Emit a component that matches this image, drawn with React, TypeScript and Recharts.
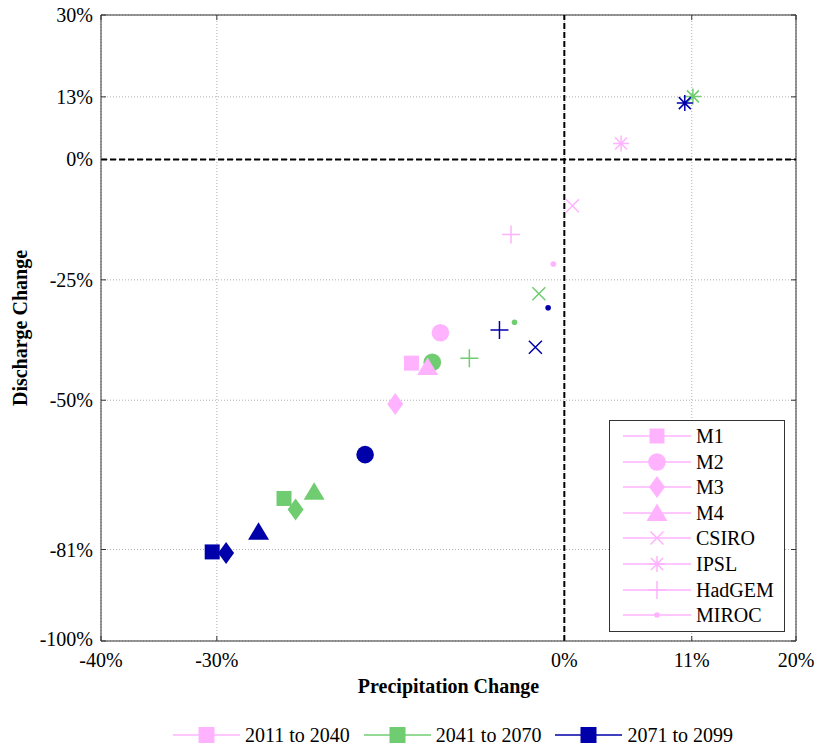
import React from 'react';
import { ScatterChart, Scatter, XAxis, YAxis, CartesianGrid, ReferenceLine, Label } from 'recharts';

const MODELS = ['M1', 'M2', 'M3', 'M4', 'CSIRO', 'IPSL', 'HadGEM', 'MIROC'];
const PERIODS = ['2011 to 2040', '2041 to 2070', '2071 to 2099'];
const COLORS = ['#FFB3FF', '#70CC70', '#0000AA'];

// precipitation change (%) per model
const precip2011 = [-13.2, -10.7, -14.6, -11.8, 0.7, 4.9, -4.6, -0.95];
const precip2041 = [-24.2, -11.4, -23.2, -21.6, -2.2, 11.1, -8.2, -4.3];
const precip2071 = [-30.4, -17.2, -29.2, -26.4, -2.5, 10.4, -5.6, -1.4];
// discharge change (%) per model
const discharge2011 = [-42.3, -36, -50.8, -43.1, -9.6, 3.3, -15.6, -21.7];
const discharge2041 = [-70.4, -42.1, -72.7, -69, -27.9, 13.1, -41.3, -33.8];
const discharge2071 = [-81.5, -61.3, -81.7, -77.3, -39, 11.7, -35.4, -30.8];

const xTicks = [-40, -30, 0, 11, 20];
const yTicks = [-100, -81, -50, -25, 0, 13, 30];

const FONT = '"Liberation Serif", "Times New Roman", serif';
const precip = [precip2011, precip2041, precip2071];
const discharge = [discharge2011, discharge2041, discharge2071];

const seriesByModel = MODELS.map((model, m) =>
  PERIODS.map((_, p) => ({ x: precip[p][m], y: discharge[p][m], period: p, model }))
);

function Marker({ cx, cy, model, color }: { cx: number; cy: number; model: string; color: string }) {
  switch (model) {
    case 'M1':
      return <rect x={cx - 7.5} y={cy - 7.5} width={15} height={15} fill={color} />;
    case 'M2':
      return <circle cx={cx} cy={cy} r={8.8} fill={color} />;
    case 'M3':
      return <polygon points={`${cx},${cy - 11} ${cx + 8},${cy} ${cx},${cy + 11} ${cx - 8},${cy}`} fill={color} />;
    case 'M4':
      return <polygon points={`${cx},${cy - 9.5} ${cx + 10.5},${cy + 8} ${cx - 10.5},${cy + 8}`} fill={color} />;
    case 'CSIRO':
      return (
        <path d={`M${cx - 6.5},${cy - 6.5}L${cx + 6.5},${cy + 6.5}M${cx - 6.5},${cy + 6.5}L${cx + 6.5},${cy - 6.5}`}
          stroke={color} strokeWidth={1.5} fill="none" />
      );
    case 'IPSL':
      return (
        <path d={`M${cx},${cy - 8}L${cx},${cy + 8}M${cx - 8},${cy}L${cx + 8},${cy}M${cx - 6},${cy - 6}L${cx + 6},${cy + 6}M${cx - 6},${cy + 6}L${cx + 6},${cy - 6}`}
          stroke={color} strokeWidth={1.5} fill="none" />
      );
    case 'HadGEM':
      return (
        <path d={`M${cx},${cy - 9}L${cx},${cy + 9}M${cx - 9},${cy}L${cx + 9},${cy}`}
          stroke={color} strokeWidth={1.5} fill="none" />
      );
    default:
      return <circle cx={cx} cy={cy} r={2.8} fill={color} />;
  }
}

const XTick = ({ x, y, payload }: any) => (
  <text x={x} y={y} dy={18} textAnchor="middle" fontSize={20} fontFamily={FONT} fill="#000">
    {payload.value}%
  </text>
);

const YTick = ({ x, y, payload }: any) => (
  <text x={x} y={y} dy={payload.value === -100 ? 5 : 7} textAnchor="end" fontSize={20} fontFamily={FONT} fill="#000">
    {payload.value}%
  </text>
);

function ModelLegend() {
  return (
    <div style={{
      position: 'absolute', left: 609, top: 420, width: 174, height: 210,
      border: '1.5px solid #333', background: '#fff', fontFamily: FONT, fontSize: 20,
    }}>
      {MODELS.map((m, i) => (
        <div key={m} style={{ position: 'absolute', left: 0, top: 3 + i * 25.6, height: 24, display: 'flex', alignItems: 'center' }}>
          <svg width={86} height={24}>
            <line x1={13} x2={81} y1={12} y2={12} stroke={COLORS[0]} strokeWidth={1.5} />
            <Marker cx={47} cy={12} model={m} color={COLORS[0]} />
          </svg>
          <span style={{ lineHeight: '24px' }}>{m}</span>
        </div>
      ))}
    </div>
  );
}

function PeriodLegend() {
  return (
    <div style={{
      position: 'absolute', left: 173, top: 722, display: 'flex', gap: 14,
      fontFamily: FONT, fontSize: 20,
    }}>
      {PERIODS.map((p, i) => (
        <div key={p} style={{ display: 'flex', alignItems: 'center' }}>
          <svg width={72} height={26}>
            <line x1={0} x2={67} y1={13} y2={13} stroke={COLORS[i]} strokeWidth={1.5} />
            <rect x={25.5} y={5} width={16} height={16} fill={COLORS[i]} />
          </svg>
          <span style={{ lineHeight: '26px' }}>{p}</span>
        </div>
      ))}
    </div>
  );
}

export default function App() {
  const tickLenY = 1.05;
  const tickLenX = 0.43;
  return (
    <div style={{ position: 'absolute', left: 0, top: 0, width: 817, height: 747, background: '#fff' }}>
      <ScatterChart width={817} height={747} margin={{ top: 15, right: 21, bottom: 76, left: 41 }}>
        <CartesianGrid stroke="#b0b0b0" strokeDasharray="1 2" />
        <XAxis type="number" dataKey="x" domain={[-40, 20]} ticks={xTicks} interval={0}
          tick={<XTick />} tickLine={false} axisLine={{ stroke: '#333' }} height={30} allowDataOverflow>
          <Label position="bottom" offset={6}
            content={({ viewBox }: any) => (
              <text x={viewBox.x + viewBox.width / 2} y={viewBox.y + viewBox.height + 22} textAnchor="middle"
                fontSize={20} fontWeight="bold" fontFamily={FONT} fill="#000">Precipitation Change</text>
            )} />
        </XAxis>
        <YAxis type="number" dataKey="y" domain={[-100, 30]} ticks={yTicks} interval={0}
          tick={<YTick />} tickLine={false} axisLine={{ stroke: '#333' }} width={60} allowDataOverflow>
          <Label position="left"
            content={({ viewBox }: any) => {
              const cy = viewBox.y + viewBox.height / 2;
              return (
                <text x={27} y={cy} transform={`rotate(-90 27 ${cy})`} textAnchor="middle"
                  fontSize={20} fontWeight="bold" fontFamily={FONT} fill="#000">Discharge Change</text>
              );
            }} />
        </YAxis>
        <ReferenceLine y={30} stroke="#333" />
        <ReferenceLine x={20} stroke="#333" />
        {xTicks.map((t) => (
          <ReferenceLine key={`bx${t}`} segment={[{ x: t, y: -100 }, { x: t, y: -100 + tickLenY }]} stroke="#333" />
        ))}
        {xTicks.map((t) => (
          <ReferenceLine key={`tx${t}`} segment={[{ x: t, y: 30 }, { x: t, y: 30 - tickLenY }]} stroke="#333" />
        ))}
        {yTicks.map((t) => (
          <ReferenceLine key={`ly${t}`} segment={[{ x: -40, y: t }, { x: -40 + tickLenX, y: t }]} stroke="#333" />
        ))}
        {yTicks.map((t) => (
          <ReferenceLine key={`ry${t}`} segment={[{ x: 20, y: t }, { x: 20 - tickLenX, y: t }]} stroke="#333" />
        ))}
        <ReferenceLine x={0} stroke="#000" strokeWidth={2} strokeDasharray="6 3" />
        <ReferenceLine y={0} stroke="#000" strokeWidth={2} strokeDasharray="6 3" />
        {seriesByModel.map((data, m) => (
          <Scatter key={MODELS[m]} name={MODELS[m]} data={data} isAnimationActive={false}
            shape={(p: any) => <Marker cx={p.cx} cy={p.cy} model={p.payload.model} color={COLORS[p.payload.period]} />} />
        ))}
      </ScatterChart>
      <ModelLegend />
      <PeriodLegend />
    </div>
  );
}
